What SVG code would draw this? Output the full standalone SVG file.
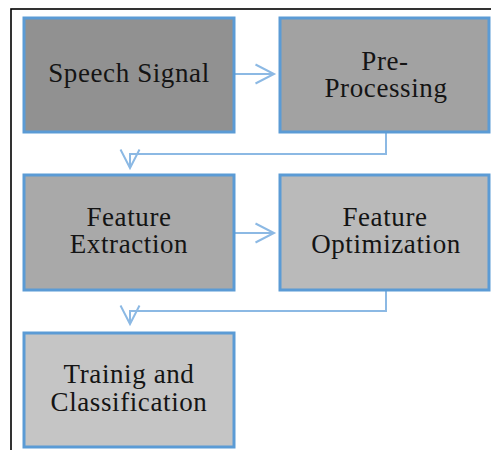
<svg xmlns="http://www.w3.org/2000/svg" width="491" height="450" viewBox="0 0 491 450">
  <style>
    .box { stroke: #5b9bd5; stroke-width: 3; }
    .lbl { font-family: "Liberation Serif", "Times New Roman", serif; font-size: 27px; letter-spacing: 0.6px; fill: #141414; text-anchor: middle; }
    .conn { fill: none; stroke: #8cb9e4; stroke-width: 2; }
  </style>
  <defs>
    <marker id="arrow" markerUnits="userSpaceOnUse" markerWidth="24" markerHeight="24" viewBox="-20 -12 24 24" refX="0" refY="0" orient="auto">
      <path d="M-18.5 -9.5 L0 0 L-18.5 9.5" fill="none" stroke="#8cb9e4" stroke-width="2"/>
    </marker>
  </defs>
  <rect x="0" y="0" width="491" height="450" fill="#ffffff"/>
  <rect x="11" y="9" width="500" height="460" fill="none" stroke="#000" stroke-width="1.6"/>

  <g id="connectors">
    <path class="conn" d="M234 74 H274" marker-end="url(#arrow)"/>
    <path class="conn" d="M386 132 V154 H130 V168" marker-end="url(#arrow)"/>
    <path class="conn" d="M234 233 H274" marker-end="url(#arrow)"/>
    <path class="conn" d="M386 290 V311 H130 V324" marker-end="url(#arrow)"/>
  </g>

  <g id="speech-signal">
    <rect class="box" x="24" y="18" width="210" height="114" fill="#919191"/>
    <text class="lbl" x="129" y="82">Speech Signal</text>
  </g>
  <g id="pre-processing">
    <rect class="box" x="280" y="18" width="209" height="114" fill="#a2a2a2"/>
    <text class="lbl" x="385" y="70">Pre-</text>
    <text class="lbl" x="386" y="97">Processing</text>
  </g>
  <g id="feature-extraction">
    <rect class="box" x="24" y="175" width="210" height="115" fill="#a9a9a9"/>
    <text class="lbl" x="129" y="226">Feature</text>
    <text class="lbl" x="129" y="253">Extraction</text>
  </g>
  <g id="feature-optimization">
    <rect class="box" x="280" y="175" width="209" height="115" fill="#bababa"/>
    <text class="lbl" x="385" y="226">Feature</text>
    <text class="lbl" x="386" y="253">Optimization</text>
  </g>
  <g id="training-classification">
    <rect class="box" x="24" y="333" width="210" height="114" fill="#c5c5c5"/>
    <text class="lbl" x="129" y="383">Trainig and</text>
    <text class="lbl" x="129" y="411">Classification</text>
  </g>
</svg>
